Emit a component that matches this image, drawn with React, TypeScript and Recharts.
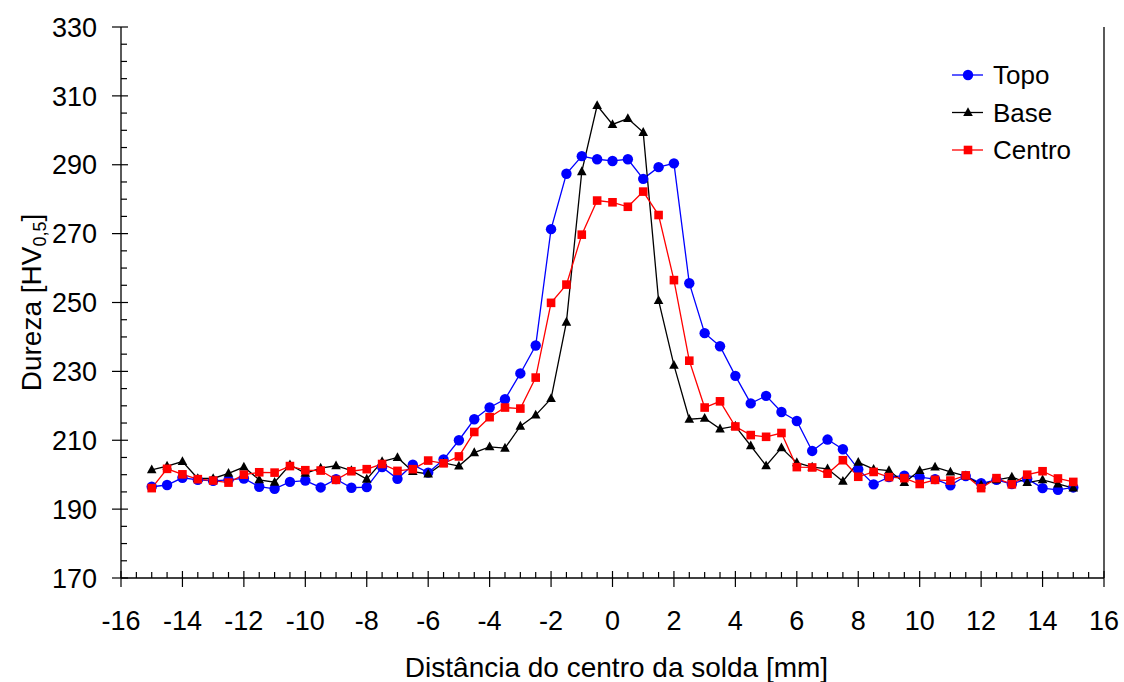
import React from 'react';
import { LineChart, Line, XAxis, YAxis, Legend, ReferenceLine, Label } from 'recharts';

const distances = [
  -15, -14.5, -14, -13.5, -13, -12.5, -12, -11.5, -11, -10.5, -10, -9.5, -9, -8.5, -8, -7.5,
  -7, -6.5, -6, -5.5, -5, -4.5, -4, -3.5, -3, -2.5, -2, -1.5, -1, -0.5, 0, 0.5, 1, 1.5, 2, 2.5,
  3, 3.5, 4, 4.5, 5, 5.5, 6, 6.5, 7, 7.5, 8, 8.5, 9, 9.5, 10, 10.5, 11, 11.5, 12, 12.5, 13, 13.5,
  14, 14.5, 15,
];

const topo = [
  196.5, 197.0, 199.1, 198.5, 198.2, 198.5, 198.9, 196.5, 195.9, 197.9, 198.3, 196.3, 198.7, 196.2, 196.4, 202.2,
  198.8, 202.9, 200.6, 204.4, 210.0, 216.1, 219.5, 221.9, 229.4, 237.5, 271.3, 287.4, 292.5, 291.6, 291.1, 291.6,
  285.9, 289.3, 290.4, 255.6, 241.1, 237.3, 228.7, 220.7, 222.9, 218.2, 215.6, 206.9, 210.2, 207.4, 201.6, 197.2,
  199.3, 199.7, 199.3, 198.7, 196.9, 199.6, 197.5, 198.5, 197.3, 198.8, 196.1, 195.6, 196.3,
];

const base = [
  201.4, 202.5, 203.8, 198.9, 198.9, 200.4, 202.2, 198.5, 197.8, 202.9, 200.4, 201.9, 202.6, 201.2, 198.7, 203.8,
  205.0, 200.9, 200.2, 203.4, 202.5, 206.4, 208.1, 207.7, 214.1, 217.3, 222.1, 244.3, 288.0, 307.2, 301.7, 303.4,
  299.4, 250.6, 231.8, 216.1, 216.4, 213.3, 214.1, 208.4, 202.6, 207.8, 203.5, 202.2, 201.7, 198.1, 203.6, 201.6,
  201.2, 197.7, 201.2, 202.2, 200.8, 199.6, 197.0, 198.5, 199.3, 197.7, 198.5, 197.3, 196.1,
];

const centro = [
  196.1, 201.7, 200.1, 198.7, 198.3, 197.7, 200.0, 200.7, 200.6, 202.5, 201.3, 201.2, 198.5, 201.0, 201.6, 203.1,
  201.1, 201.6, 204.1, 203.3, 205.3, 212.4, 216.7, 219.5, 219.2, 228.2, 249.9, 255.2, 269.7, 279.6, 279.1, 277.8,
  282.2, 275.4, 256.5, 233.1, 219.5, 221.3, 214.0, 211.5, 211.0, 212.1, 202.2, 202.1, 200.3, 204.2, 199.4, 200.8,
  199.3, 199.0, 197.3, 198.5, 198.3, 199.8, 196.1, 199.0, 197.2, 200.0, 201.0, 198.9, 197.9,
];

const xMajorTicks = [-16, -14, -12, -10, -8, -6, -4, -2, 0, 2, 4, 6, 8, 10, 12, 14, 16];
const yMajorTicks = [170, 190, 210, 230, 250, 270, 290, 310, 330];
const xMinorStep = 0.5;
const yMinorStep = 5;

const seriesNames = ['Topo', 'Base', 'Centro'];
const seriesColors = ['#0000FF', '#000000', '#FF0000'];

const FONT = '"Liberation Sans", Arial, Helvetica, sans-serif';

const data = distances.map((d, i) => ({ d, topo: topo[i], base: base[i], centro: centro[i] }));

const buildTicks = (majors: number[], step: number) => {
  const out: number[] = [];
  const lo = majors[0];
  const hi = majors[majors.length - 1];
  const n = Math.round((hi - lo) / step);
  for (let i = 0; i <= n; i++) out.push(Math.round((lo + i * step) * 1000) / 1000);
  return out;
};
const xTicks = buildTicks(xMajorTicks, xMinorStep);
const yTicks = buildTicks(yMajorTicks, yMinorStep);

const isMajor = (v: number, majors: number[]) => majors.some((m) => Math.abs(m - v) < 1e-6);

const XTick = (props: any) => {
  const { x, y, payload } = props;
  const v = payload.value;
  const major = isMajor(v, xMajorTicks);
  return (
    <g>
      <line x1={x} x2={x} y1={major ? y - 7 : y - 6} y2={major ? y + 9 : y} stroke="#000" strokeWidth={1.2} />
      {major && (
        <text x={x} y={y + 52} textAnchor="middle" fontSize={27} fontFamily={FONT} fill="#000">
          {String(v)}
        </text>
      )}
    </g>
  );
};

const YTick = (props: any) => {
  const { x, y, payload } = props;
  const v = payload.value;
  const major = isMajor(v, yMajorTicks);
  return (
    <g>
      <line x1={major ? x - 9 : x} x2={major ? x + 7 : x + 6} y1={y} y2={y} stroke="#000" strokeWidth={1.2} />
      {major && (
        <text x={x - 24} y={y} dy="0.36em" textAnchor="end" fontSize={27} fontFamily={FONT} fill="#000">
          {String(v)}
        </text>
      )}
    </g>
  );
};

const circleDot = (props: any) => {
  const { cx, cy, index } = props;
  if (cx == null || cy == null) return <g key={`c${index}`} />;
  return <circle key={`c${index}`} cx={cx} cy={cy} r={5.2} fill={seriesColors[0]} stroke="none" />;
};
const triangleDot = (props: any) => {
  const { cx, cy, index } = props;
  if (cx == null || cy == null) return <g key={`t${index}`} />;
  return (
    <path
      key={`t${index}`}
      d={`M${cx},${cy - 5.3} L${cx + 4.8},${cy + 3.5} L${cx - 4.8},${cy + 3.5} Z`}
      fill={seriesColors[1]}
    />
  );
};
const squareDot = (props: any) => {
  const { cx, cy, index } = props;
  if (cx == null || cy == null) return <g key={`s${index}`} />;
  return <rect key={`s${index}`} x={cx - 4.3} y={cy - 4.3} width={8.6} height={8.6} fill={seriesColors[2]} />;
};

const LegendBox = () => {
  const rows = [20, 57.5, 95];
  return (
    <svg width={150} height={120} style={{ display: 'block', overflow: 'visible' }}>
      {seriesNames.map((name, i) => {
        const cy = rows[i];
        const color = seriesColors[i];
        return (
          <g key={name}>
            <line x1={7} x2={38} y1={cy} y2={cy} stroke={color} strokeWidth={1.3} />
            {i === 0 && <circle cx={23} cy={cy} r={5.2} fill={color} />}
            {i === 1 && <path d={`M23,${cy - 5.3} L27.8,${cy + 3.5} L18.2,${cy + 3.5} Z`} fill={color} />}
            {i === 2 && <rect x={18.7} y={cy - 4.3} width={8.6} height={8.6} fill={color} />}
            <text x={48} y={cy} dy="0.36em" fontSize={26} fontFamily={FONT} fill="#000">
              {name}
            </text>
          </g>
        );
      })}
    </svg>
  );
};

export default function App() {
  return (
    <div style={{ position: 'absolute', left: 0, top: 0, width: 1124, height: 682, overflow: 'hidden', background: '#fff' }}>
      <LineChart width={1124} height={682} data={data} margin={{ top: 27, right: 20, left: 0, bottom: 0 }}>
        <XAxis
          dataKey="d"
          type="number"
          domain={[-16, 16]}
          ticks={xTicks}
          interval={0}
          tickSize={0}
          tickMargin={0}
          tickLine={false}
          tick={<XTick />}
          axisLine={{ stroke: '#000', strokeWidth: 1.3 }}
          height={104}
          allowDataOverflow
        >
          <Label
            content={() => (
              <text x={616.5} y={677} textAnchor="middle" fontSize={28} fontFamily={FONT} fill="#000">
                Distância do centro da solda [mm]
              </text>
            )}
          />
        </XAxis>
        <YAxis
          type="number"
          domain={[170, 330]}
          ticks={yTicks}
          interval={0}
          tickSize={0}
          tickMargin={0}
          tickLine={false}
          tick={<YTick />}
          axisLine={{ stroke: '#000', strokeWidth: 1.3 }}
          width={121}
          allowDataOverflow
        >
          <Label
            content={() => (
              <text
                transform="translate(41, 302.5) rotate(-90)"
                textAnchor="middle"
                fontSize={28}
                fontFamily={FONT}
                fill="#000"
              >
                Dureza [HV<tspan fontSize={18} dy={5}>0,5</tspan>
                <tspan dy={-5}>]</tspan>
              </text>
            )}
          />
        </YAxis>
        <ReferenceLine x={16} stroke="#000" strokeWidth={1.3} ifOverflow="extendDomain" />
        <Line
          type="linear"
          dataKey="topo"
          name={seriesNames[0]}
          stroke={seriesColors[0]}
          strokeWidth={1.3}
          dot={circleDot}
          activeDot={false}
          isAnimationActive={false}
        />
        <Line
          type="linear"
          dataKey="base"
          name={seriesNames[1]}
          stroke={seriesColors[1]}
          strokeWidth={1.3}
          dot={triangleDot}
          activeDot={false}
          isAnimationActive={false}
        />
        <Line
          type="linear"
          dataKey="centro"
          name={seriesNames[2]}
          stroke={seriesColors[2]}
          strokeWidth={1.3}
          dot={squareDot}
          activeDot={false}
          isAnimationActive={false}
        />
        <Legend
          layout="horizontal"
          verticalAlign="middle"
          align="center"
          wrapperStyle={{ position: 'absolute', left: 945, top: 55, width: 150, height: 120 }}
          content={() => <LegendBox />}
        />
      </LineChart>
    </div>
  );
}
